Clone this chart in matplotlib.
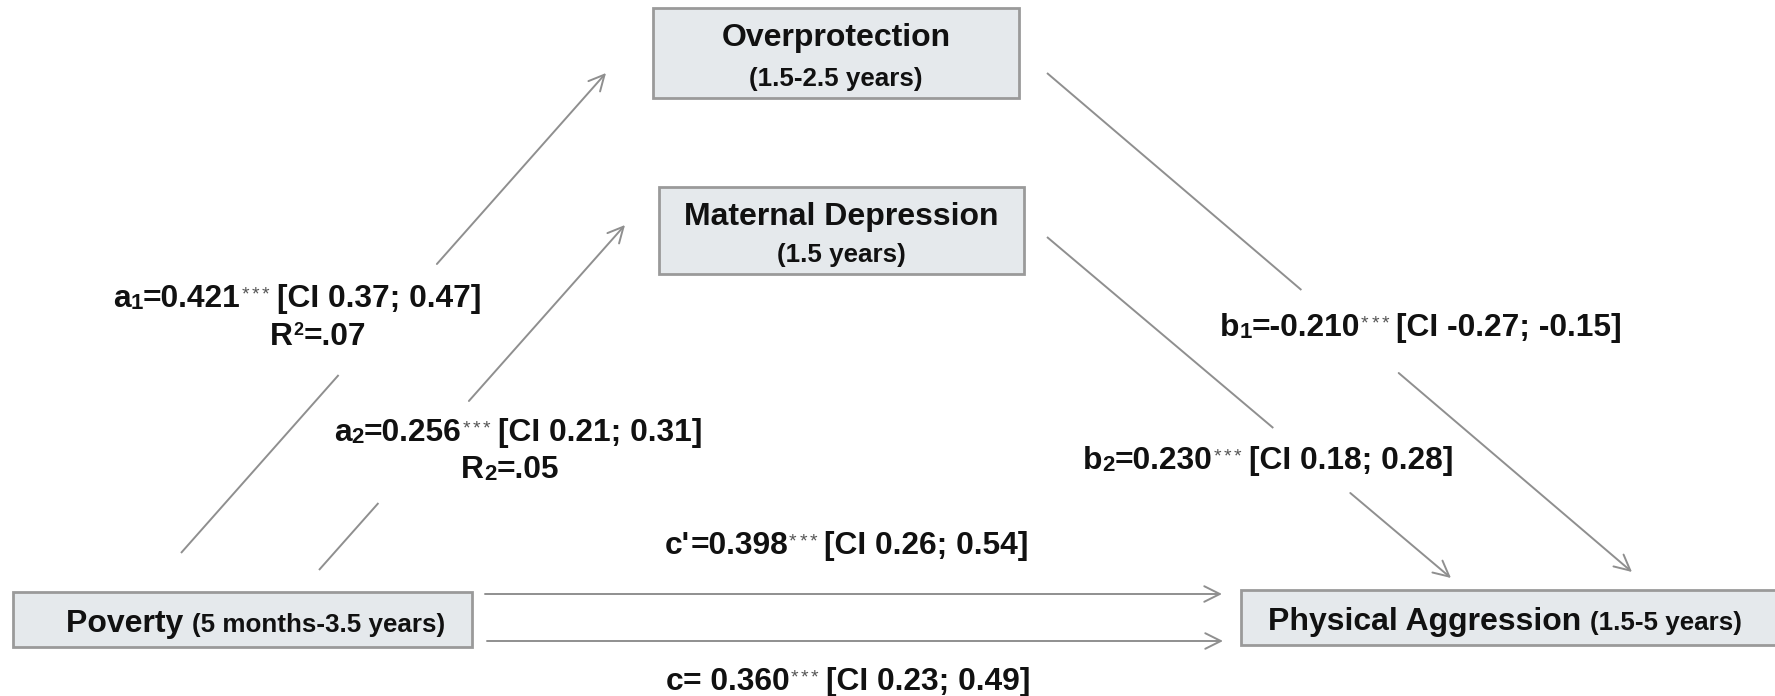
import matplotlib
matplotlib.use("Agg")
import matplotlib.pyplot as plt
from matplotlib.patches import Rectangle

plt.rcParams['font.family'] = ['Liberation Sans', 'DejaVu Sans']

# ---- data ----
node_names = ["Overprotection", "Maternal Depression", "Poverty", "Physical Aggression"]
node_ages = ["(1.5-2.5 years)", "(1.5 years)", "(5 months-3.5 years)", "(1.5-5 years)"]

path_letters = ["a", "a", "b", "b", "c'", "c"]
path_subs = ["1", "2", "1", "2", "", ""]
path_coefs = ["0.421", "0.256", "-0.210", "0.230", "0.398", " 0.360"]
path_sig = ["***", "***", "***", "***", "***", "***"]
ci_low = ["0.37", "0.21", "-0.27", "0.18", "0.26", "0.23"]
ci_high = ["0.47", "0.31", "-0.15", "0.28", "0.54", "0.49"]
r2_values = [".07", ".05", None, None, None, None]
r2_script = ["sup", "sub", None, None, None, None]

# ---- layout (pixel space, y downward) ----
W, H = 1775, 696
box_rects = [(653, 8, 366, 90), (659, 187, 365, 87), (13, 592, 459, 55), (1241, 590, 560, 55)]
box_stacked = [True, True, False, False]
box_text_x = [None, None, 66, 1268]

arrow_start = [(181, 553), (319, 570), (1047, 73), (1047, 237), (485, 594), (487, 641)]
arrow_end = [(606, 73), (625, 225), (1632, 572), (1451, 578), (1222, 594), (1223, 641)]
arrow_gap = [(375, 264), (503, 401), (290, 373), (428, 493), None, None]
label_pos = [(297, 296), (518, 430), (1421, 325), (1268, 458), (847, 543), (848, 679)]
r2_pos = [(318, 334), (510, 467), None, None, None, None]

BIG = 23
LAB = 22.9
SMALL = 18.7
STAR = 14
SUB = 16
SUP = 13

fig = plt.figure(figsize=(W / 100, H / 100), dpi=100)
ax = fig.add_axes([0, 0, 1, 1])
ax.set_xlim(0, W)
ax.set_ylim(H, 0)
ax.axis('off')
renderer = fig.canvas.get_renderer()

box_fc = '#e5e9ec'
box_ec = '#9a9a9a'
line_c = '#8f8f8f'
txt_c = '#111111'
star_c = '#555555'


def rich_text(x0, cy, pieces, main_size, ha='center'):
    """pieces: (string, size, rise_px, weight, color) or a number = gap in px"""
    objs, widths = [], []
    for p in pieces:
        if isinstance(p, (int, float)):
            objs.append(None)
            widths.append(p)
            continue
        s, size, rise, w, c = p
        t = ax.text(0, 0, s, fontsize=size, fontweight=w, color=c, ha='left', va='baseline')
        widths.append(t.get_window_extent(renderer).width)
        objs.append(t)
    total = sum(widths)
    x = x0 - total / 2 if ha == 'center' else x0
    cap = 0.716 * main_size * 100 / 72
    base = cy + cap / 2
    for t, wd, p in zip(objs, widths, pieces):
        if t is not None:
            t.set_position((x, base - p[2]))
        x += wd


for (x, y, w, h), name, age, stacked, tx in zip(box_rects, node_names, node_ages, box_stacked, box_text_x):
    ax.add_patch(Rectangle((x, y), w, h, facecolor=box_fc, edgecolor=box_ec, lw=2, clip_on=False))
    if stacked:
        rich_text(x + w / 2, y + h * 0.30, [(name, BIG, 0, 'bold', txt_c)], BIG)
        rich_text(x + w / 2, y + h * 0.76, [(age, SMALL, 0, 'bold', txt_c)], SMALL)
    else:
        rich_text(tx, y + h / 2 + 1, [(name + " ", BIG, 0, 'bold', txt_c),
                                      (age, SMALL, 0, 'bold', txt_c)], BIG, ha='left')


def point_at_y(p0, p1, yy):
    (x0, y0), (x1, y1) = p0, p1
    t = (yy - y0) / (y1 - y0)
    return (x0 + t * (x1 - x0), yy)


for s, e, g in zip(arrow_start, arrow_end, arrow_gap):
    aprops = dict(arrowstyle='->', color=line_c, lw=1.4, mutation_scale=28,
                  shrinkA=0, shrinkB=0)
    if g is None:
        ax.annotate('', xy=e, xytext=s, arrowprops=aprops)
    else:
        g1 = point_at_y(s, e, g[0])
        g2 = point_at_y(s, e, g[1])
        ax.plot([s[0], g1[0]], [s[1], g1[1]], color=line_c, lw=1.4, solid_capstyle='butt')
        ax.annotate('', xy=e, xytext=g2, arrowprops=aprops)

for let, sub, coef, sig, lo, hi, pos, r2, rs, rpos in zip(
        path_letters, path_subs, path_coefs, path_sig, ci_low, ci_high,
        label_pos, r2_values, r2_script, r2_pos):
    pieces = [(let, LAB, 0, 'bold', txt_c)]
    if sub:
        pieces.append((sub, SUB, -2, 'bold', txt_c))
    pieces.append(("=" + coef, LAB, 0, 'bold', txt_c))
    pieces.append(1)
    for ch in sig:
        pieces += [(ch, STAR, 8, 'normal', star_c), 2.5]
    pieces.append(5)
    pieces.append(("[CI " + lo + "; " + hi + "]", LAB, 0, 'bold', txt_c))
    rich_text(pos[0], pos[1], pieces, LAB)
    if r2 is not None:
        if rs == 'sup':
            mid = ("2", SUP, 10, 'bold', txt_c)
        else:
            mid = ("2", SUB, -2, 'bold', txt_c)
        rich_text(rpos[0], rpos[1], [("R", LAB, 0, 'bold', txt_c), mid,
                                     ("=" + r2, LAB, 0, 'bold', txt_c)], LAB)

fig.savefig('out.png', dpi=100, facecolor='white')
